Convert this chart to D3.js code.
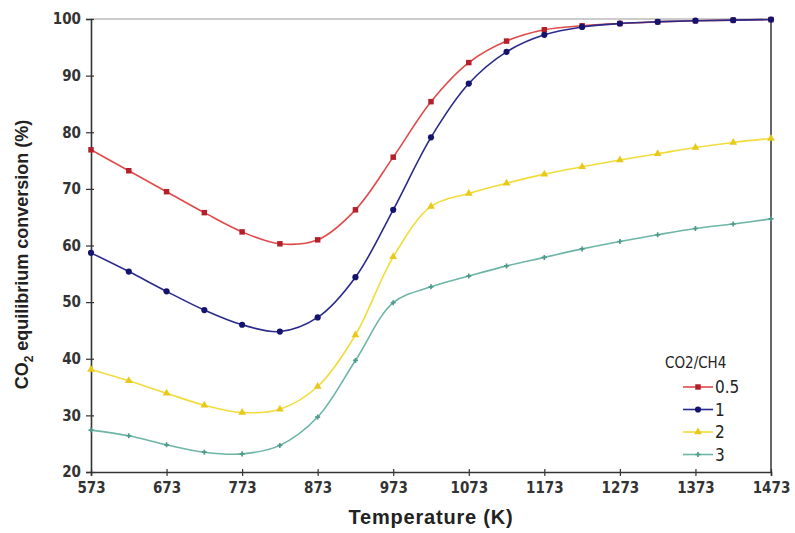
<!DOCTYPE html>
<meta charset="utf-8">
<script src="https://d3js.org/d3.v7.min.js"></script>
<style>
  body { margin: 0; background: #fff; }
  text { font-family: "DejaVu Sans Condensed", "Liberation Sans Narrow", "Liberation Sans", Arial, sans-serif; }
</style>
<div id="chart"></div>
<script>

// temperatures (K), one point every 50 K
var temps = [573, 623, 673, 723, 773, 823, 873, 923, 973, 1023, 1073, 1123, 1173, 1223, 1273, 1323, 1373, 1423, 1473];
var xTicks = [573, 673, 773, 873, 973, 1073, 1173, 1273, 1373, 1473];
var yTicks = [20, 30, 40, 50, 60, 70, 80, 90, 100];

// CO2 equilibrium conversion (%) for each CO2/CH4 ratio
var ratio05 = [76.9, 73.2, 69.5, 65.8, 62.4, 60.3, 61.0, 66.3, 75.6, 85.4, 92.3, 96.1, 98.1, 98.8, 99.2, 99.5, 99.7, 99.8, 99.9];
var ratio1  = [58.7, 55.4, 51.9, 48.6, 46.0, 44.8, 47.3, 54.4, 66.3, 79.1, 88.6, 94.2, 97.2, 98.6, 99.2, 99.5, 99.7, 99.8, 99.9];
var ratio2  = [38.1, 36.1, 33.9, 31.8, 30.5, 31.1, 35.1, 44.2, 58.0, 66.9, 69.2, 71.0, 72.6, 73.9, 75.1, 76.2, 77.3, 78.2, 78.9];
var ratio3  = [27.4, 26.4, 24.8, 23.5, 23.2, 24.7, 29.7, 39.7, 49.9, 52.7, 54.6, 56.4, 57.9, 59.4, 60.7, 61.9, 63.0, 63.8, 64.7];
var seriesNames = ["0.5", "1", "2", "3"];

var series = [
  {name: seriesNames[0], values: ratio05, line: "#e04a4a", mark: "#b3202a", symbol: d3.symbolSquare, size: 30},
  {name: seriesNames[1], values: ratio1,  line: "#2a2a8c", mark: "#14146e", symbol: d3.symbolCircle, size: 30},
  {name: seriesNames[2], values: ratio2,  line: "#f2dc3c", mark: "#e8c81a", symbol: d3.symbolTriangle, size: 26},
  {name: seriesNames[3], values: ratio3,  line: "#6db5a6", mark: "#4e9a8a", symbol: d3.symbolCross, size: 14}
];

var margin = {top: 19, right: 24, bottom: 61, left: 91},
    width = 795 - margin.left - margin.right,
    height = 533 - margin.top - margin.bottom;

var svg = d3.select("#chart")
  .append("svg")
    .attr("width", 795)
    .attr("height", 533)
  .append("g")
    .attr("transform", "translate(" + margin.left + "," + margin.top + ")");

var x = d3.scaleLinear().domain([573, 1473]).range([0, width]);
var y = d3.scaleLinear().domain([20, 100]).range([height, 0]);

// frame: top and right border
svg.append("line")
  .attr("x1", 0).attr("x2", width).attr("y1", 0).attr("y2", 0)
  .attr("stroke", "#999").attr("stroke-width", 1.2);
svg.append("line")
  .attr("x1", width).attr("x2", width).attr("y1", 0).attr("y2", height)
  .attr("stroke", "#666").attr("stroke-width", 2);

// axes
var xAxis = svg.append("g")
  .attr("transform", "translate(0," + height + ")")
  .call(d3.axisBottom(x).tickValues(xTicks).tickFormat(d3.format("d")).tickSize(4).tickPadding(6));
var yAxis = svg.append("g")
  .call(d3.axisLeft(y).tickValues(yTicks).tickFormat(d3.format("d")).tickSize(5).tickPadding(5));

[xAxis, yAxis].forEach(function(a) {
  a.select(".domain").attr("stroke", "#333").attr("stroke-width", 1.6);
  a.selectAll(".tick line").attr("stroke", "#333").attr("stroke-width", 1.2);
  a.selectAll(".tick text")
    .attr("fill", "#333")
    .style("font-size", "15px")
    .style("font-weight", "bold");
});
// ticks cross the axis a little
xAxis.selectAll(".tick line").attr("y1", -3);
yAxis.selectAll(".tick line").attr("x1", 3);

// axis titles
svg.append("text")
  .attr("x", width / 2)
  .attr("y", height + 52)
  .attr("text-anchor", "middle")
  .attr("fill", "#222")
  .style("font-family", "'Liberation Sans', Arial, sans-serif")
  .style("font-size", "20px")
  .style("font-weight", "bold")
  .style("letter-spacing", "0.8px")
  .text("Temperature (K)");

var yl = svg.append("text")
  .attr("transform", "translate(-63," + (height / 2 + 9) + ") rotate(-90)")
  .attr("text-anchor", "middle")
  .attr("fill", "#222")
  .style("font-family", "'Liberation Sans', Arial, sans-serif")
  .style("font-size", "18px")
  .style("font-weight", "bold");
yl.append("tspan").text("CO");
yl.append("tspan").attr("dy", 5).style("font-size", "12px").text("2");
yl.append("tspan").attr("dy", -5).text(" equilibrium conversion (%)");

// lines and markers
var line = d3.line()
  .x(function(d, i) { return x(temps[i]); })
  .y(function(d) { return y(d); })
  .curve(d3.curveCatmullRom);

series.forEach(function(s) {
  svg.append("path")
    .datum(s.values)
    .attr("fill", "none")
    .attr("stroke", s.line)
    .attr("stroke-width", 1.6)
    .attr("d", line);

  svg.selectAll(null)
    .data(s.values)
    .enter()
    .append("path")
      .attr("transform", function(d, i) { return "translate(" + x(temps[i]) + "," + y(d) + ")"; })
      .attr("d", d3.symbol().type(s.symbol).size(s.size))
      .attr("fill", s.mark);
});

// legend
var legend = svg.append("g")
  .attr("transform", "translate(" + (665 - margin.left) + "," + (368 - margin.top) + ")");
legend.append("text")
  .attr("x", 0).attr("y", 0)
  .attr("fill", "#222")
  .style("font-size", "15px")
  .text("CO2/CH4");

series.forEach(function(s, i) {
  var g = legend.append("g").attr("transform", "translate(0," + (19 + i * 22.5) + ")");
  g.append("line")
    .attr("x1", 18).attr("x2", 48).attr("y1", 0).attr("y2", 0)
    .attr("stroke", s.line).attr("stroke-width", 1.6);
  g.append("path")
    .attr("transform", "translate(33,0)")
    .attr("d", d3.symbol().type(s.symbol).size(s.size))
    .attr("fill", s.mark);
  g.append("text")
    .attr("x", 50).attr("y", 6)
    .attr("fill", "#222")
    .style("font-size", "17px")
    .text(s.name);
});

</script>
